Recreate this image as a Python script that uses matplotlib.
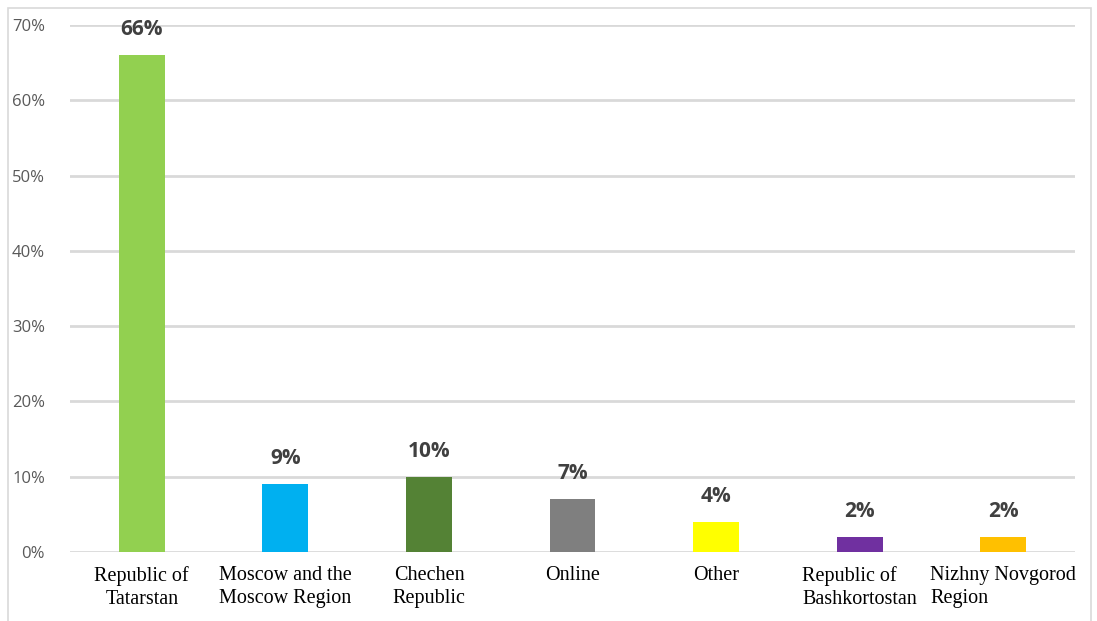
import matplotlib.pyplot as plt
from matplotlib.patches import Rectangle

categories = ["Republic of\nTatarstan", "Moscow and the\nMoscow Region", "Chechen\nRepublic",
              "Online", "Other", "Republic of\nBashkortostan", "Nizhny Novgorod\nRegion"]
shares = [66, 9, 10, 7, 4, 2, 2]
colors = ["#92d050", "#00b0f0", "#548235", "#7f7f7f", "#ffff00", "#7030a0", "#ffc000"]
yticks = [0, 10, 20, 30, 40, 50, 60, 70]

fig = plt.figure(figsize=(10.97, 6.21), dpi=100)
ax = fig.add_axes([0.0638, 0.1111, 0.9162, 0.8486])

x = range(len(categories))
ax.bar(x, shares, width=0.32, color=colors, zorder=3)
for xi, v in zip(x, shares):
    ax.text(xi, v + 2.0, f"{v}%", ha="center", va="bottom", fontsize=15,
            fontweight="bold", color="#404040", family="Open Sans", zorder=4)

ax.set_xlim(-0.5, len(categories) - 0.5)
ax.set_ylim(0, 70)
ax.set_yticks(yticks)
ax.set_yticklabels([f"{t}%" for t in yticks], fontsize=12, color="#595959", family="Open Sans")
ax.tick_params(axis="y", length=0, pad=18)
ax.set_xticks(list(x))
ax.set_xticklabels(categories, fontsize=14.5, family="Liberation Serif", color="black",
                   linespacing=1.3)
for lbl in ax.get_xticklabels()[5:]:
    lbl.set_multialignment("left")
ax.tick_params(axis="x", length=0, pad=10)
ax.grid(axis="y", color="#d9d9d9", linewidth=2, zorder=0)
for s in ax.spines.values():
    s.set_visible(False)

fig.patches.append(Rectangle((8 / 1097, -0.01), 1083 / 1097, 1 - 8 / 621 + 0.01,
                             transform=fig.transFigure, fill=False,
                             edgecolor="#d9d9d9", linewidth=1.2))

fig.savefig("out.png", dpi=100)
